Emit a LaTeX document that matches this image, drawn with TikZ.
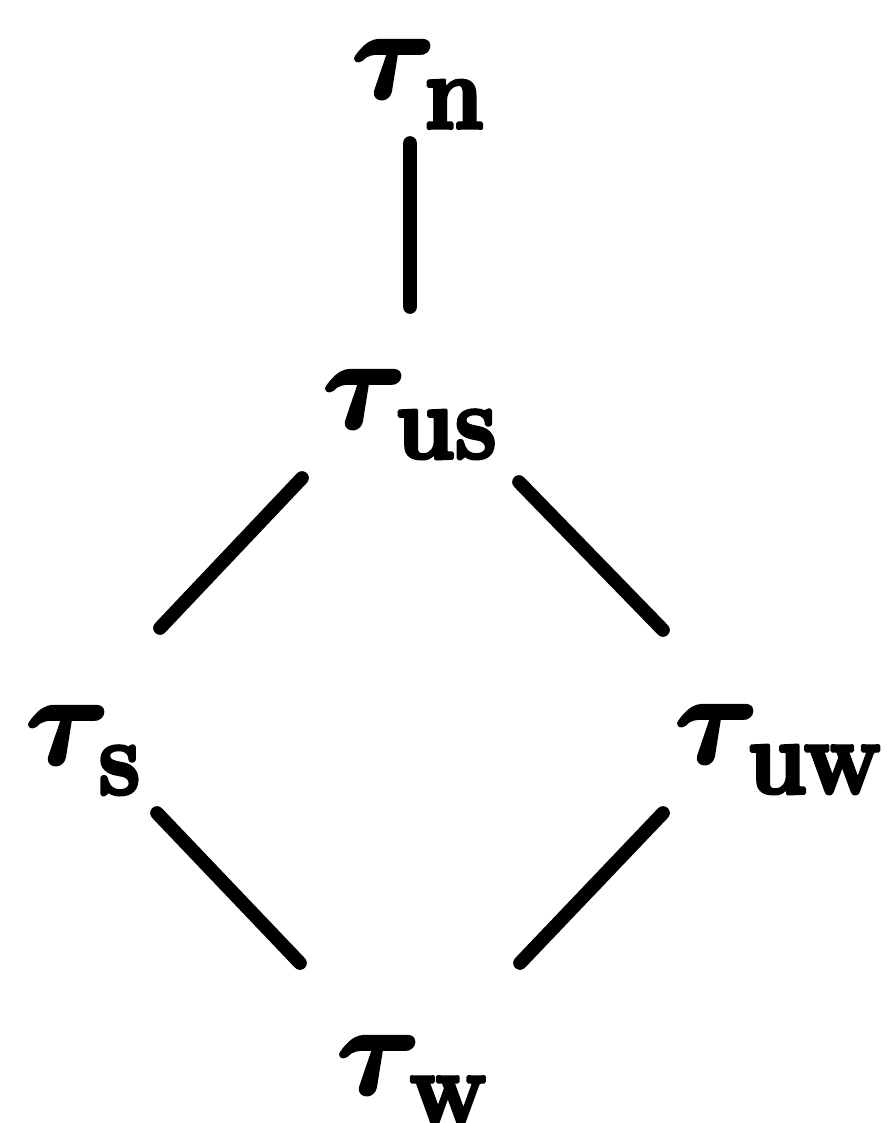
\documentclass[tikz,border=0pt]{standalone}
\usepackage{graphicx}
\newcommand{\heavy}[2]{\special{pdf:code q 2 Tr #1 w 1 J 1 j}#2\special{pdf:code Q}}
\newcommand{\taulbl}[1]{\scalebox{3.6}{\heavy{0.3}{\boldmath$\tau$}}\kern-3pt\raisebox{-8.8pt}{\scalebox{0.9}[1]{\fontsize{30}{34}\selectfont\bfseries\heavy{1.1}{#1}}}}
\tikzset{
  lbl/.style={inner sep=0pt, outer sep=0pt, anchor=base west},
  edge/.style={line width=3.9pt, line cap=round, black}
}
\begin{document}
\begin{tikzpicture}
\useasboundingbox (0,0) rectangle (8.88,-11.23);
\clip (0,0) rectangle (8.88,-11.23);
\node[lbl] (n)  at (3.52,-0.97)  {\taulbl{n}};
\node[lbl] (us) at (3.23,-4.27)  {\taulbl{us}};
\node[lbl] (s)  at (0.26,-7.63)  {\taulbl{s}};
\node[lbl] (uw) at (6.75,-7.62)  {\taulbl{uw}};
\node[lbl] (w)  at (3.37,-10.93) {\taulbl{w}};
\draw[edge] ([shift={(0.58,-0.46)}]n.base west) -- ([shift={(0.87,1.20)}]us.base west);
\draw[edge] ([shift={(-0.21,-0.51)}]us.base west) -- ([shift={(1.34,1.35)}]s.base west);
\draw[edge] ([shift={(1.96,-0.55)}]us.base west) -- ([shift={(-0.12,1.32)}]uw.base west);
\draw[edge] ([shift={(1.31,-0.50)}]s.base west) -- ([shift={(-0.37,1.30)}]w.base west);
\draw[edge] ([shift={(-0.12,-0.51)}]uw.base west) -- ([shift={(1.83,1.30)}]w.base west);
\end{tikzpicture}
\end{document}
